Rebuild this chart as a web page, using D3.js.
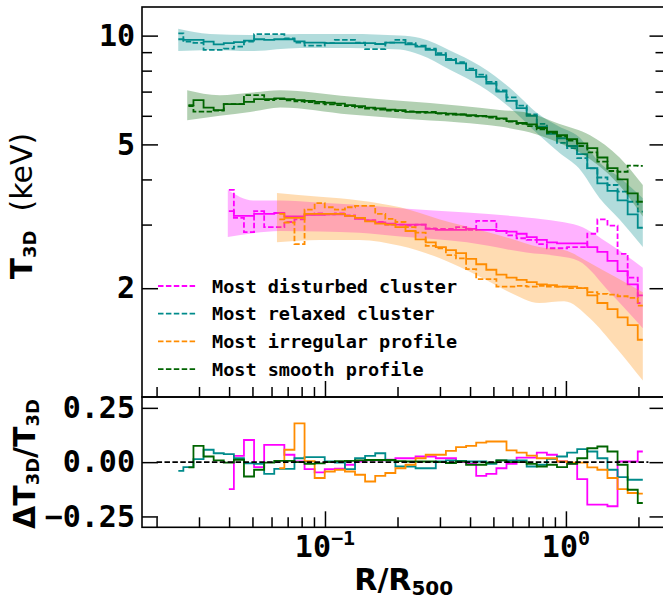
<!DOCTYPE html>
<html>
<head>
<meta charset="utf-8">
<script src="https://cdn.jsdelivr.net/npm/d3@7/dist/d3.min.js"></script>
<style>
body{margin:0;background:#fff;}
svg{display:block;}
</style>
</head>
<body>
<script>
// radial bins (R/R500), log spaced
var radius = [0.02462,0.02711,0.02986,0.03289,0.03622,0.03990,0.04393,0.04838,0.05329,0.05868,
    0.06463,0.07118,0.07840,0.08633,0.09506,0.1047,0.1153,0.1270,0.1398,0.1540,
    0.1696,0.1868,0.2057,0.2265,0.2494,0.2748,0.3026,0.3333,0.3671,0.4043,
    0.4452,0.4903,0.5400,0.5947,0.6549,0.7213,0.7943,0.8750,0.9636,1.061,
    1.169,1.287,1.417,1.561,1.719,1.893,2.085];

// most disturbed cluster
var disturbedT = [null,null,null,null,null,3.27,3.17,3.17,3.21,3.21,
    3.23,3.16,3.16,3.19,3.19,3.20,3.20,3.17,3.11,3.08,
    3.04,3.02,3.00,3.00,3.00,2.92,2.90,2.90,2.90,2.92,
    2.90,2.90,2.88,2.87,2.83,2.77,2.72,2.68,2.66,2.66,
    2.66,2.60,2.52,2.38,2.23,2.05,1.91];
var disturbedT2 = [null,null,null,null,null,3.74,3.13,2.86,3.27,2.95,
    2.95,3.05,3.10,3.20,3.22,3.20,3.22,3.18,3.12,3.08,
    3.05,3.00,3.00,2.98,3.00,2.93,2.92,2.92,2.95,2.90,
    3.07,3.07,2.88,2.80,2.75,2.72,2.65,2.58,2.58,2.60,
    2.60,2.83,3.10,2.98,2.49,2.14,1.82];
var disturbedRes = [null,null,null,null,null,-0.124,0.029,0.102,-0.023,0.08,
    0.08,0.034,0.003,-0.032,-0.047,-0.032,-0.03,-0.012,0.003,0.008,
    0.008,0.011,0.018,0.018,0.026,0.026,0.018,0.018,0.0,-0.008,
    -0.063,-0.054,-0.028,-0.008,0.021,0.021,0.044,0.034,0.003,-0.008,
    -0.078,-0.196,-0.196,-0.203,0.003,0.003,0.049];
var disturbedBandR = [0.0395,0.0503,0.0651,0.0952,0.139,0.205,0.388,0.685,0.936,1.13,1.52,2.085];
var disturbedLo = [2.77,2.84,2.88,2.87,2.85,2.78,2.68,2.51,2.45,2.38,1.95,1.55];
var disturbedHi = [3.74,3.50,3.50,3.45,3.40,3.33,3.24,3.14,3.06,2.98,2.65,2.28];

// most relaxed cluster
var relaxedT = [9.77,9.73,9.73,9.62,9.46,9.53,9.59,9.69,9.77,9.73,
    9.77,9.77,9.64,9.56,9.56,9.53,9.53,9.53,9.53,9.53,
    9.48,9.56,9.56,9.46,9.32,9.13,8.84,8.56,8.38,8.03,
    7.69,7.37,7.00,6.60,6.30,6.00,5.60,5.35,5.20,4.95,
    4.70,4.30,3.90,3.72,3.50,3.20,2.94];
var relaxedT2 = [10.15,9.62,9.55,9.13,9.13,9.20,9.32,9.62,10.09,10.09,
    10.09,9.83,9.56,9.38,9.38,9.53,9.73,9.73,9.56,9.17,
    9.17,9.56,9.73,9.53,9.38,9.20,8.95,8.62,8.45,8.10,
    7.80,7.45,7.05,6.75,6.40,6.05,5.70,5.40,5.05,4.88,
    4.58,4.29,4.05,3.86,3.70,3.47,3.26];
var relaxedRes = [-0.04,-0.023,0.014,0.057,0.041,0.037,0.018,-0.005,-0.008,-0.054,
    -0.031,-0.031,0.018,0.023,0.023,0.003,-0.002,-0.032,0.018,0.029,
    0.041,0.008,-0.02,-0.02,-0.028,-0.028,0.003,0.008,0.006,0.003,
    0.003,-0.008,0.008,0.008,0.008,-0.02,-0.012,0.015,0.026,0.044,
    0.06,0.049,0.018,-0.035,-0.069,-0.081,-0.081];
var relaxedBandR = [0.0246,0.0333,0.0489,0.0787,0.127,0.205,0.248,0.330,0.439,0.583,0.775,0.936,1.13,1.38,1.67,2.085];
var relaxedLo = [9.06,9.13,9.06,9.24,9.24,9.15,8.85,8.05,7.28,6.34,5.30,4.75,4.30,3.55,3.10,2.60];
var relaxedHi = [10.45,10.11,10.04,10.11,10.11,10.00,9.85,9.10,8.25,7.19,6.05,5.60,5.25,4.45,4.05,3.55];

// most irregular profile
var irregularT = [null,null,null,null,null,null,null,null,null,null,
    3.21,3.13,3.13,3.21,3.21,3.21,3.21,3.17,3.13,3.06,
    3.02,3.00,2.95,2.88,2.73,2.68,2.60,2.55,2.50,2.41,
    2.33,2.25,2.18,2.14,2.11,2.08,2.05,2.04,2.02,2.02,
    2.00,1.91,1.82,1.75,1.66,1.58,1.44];
var irregularT2 = [null,null,null,null,null,null,null,null,null,null,
    3.10,3.04,2.65,3.30,3.44,3.35,3.30,3.35,3.38,3.38,
    3.21,3.11,3.05,2.95,2.85,2.62,2.58,2.47,2.42,2.26,
    2.12,2.12,2.02,2.02,2.03,2.02,2.03,2.02,2.02,2.00,
    2.00,1.95,1.93,1.92,1.90,1.88,1.79];
var irregularRes = [null,null,null,null,null,null,null,null,null,null,
    -0.028,0.057,0.179,0.005,-0.073,-0.043,-0.035,-0.043,-0.058,-0.089,
    -0.063,-0.05,-0.028,-0.012,0.018,0.034,0.034,0.052,0.069,0.075,
    0.09,0.095,0.095,0.054,0.044,0.03,0.018,0.018,0.003,-0.002,
    -0.002,-0.024,-0.035,-0.073,-0.124,-0.142,-0.145];
var irregularBandR = [0.0632,0.0952,0.139,0.205,0.300,0.439,0.583,0.775,0.982,1.26,1.60,2.085];
var irregularLo = [2.68,2.72,2.72,2.62,2.42,2.15,1.95,1.82,1.84,1.65,1.38,1.11];
var irregularHi = [3.67,3.58,3.50,3.35,3.10,2.90,2.75,2.60,2.55,2.35,2.15,1.95];

// most smooth profile
var smoothT = [null,6.42,6.63,6.32,6.22,6.46,6.46,6.56,6.67,6.67,
    6.70,6.67,6.63,6.60,6.56,6.52,6.48,6.42,6.38,6.32,
    6.29,6.24,6.22,6.15,6.15,6.12,6.10,6.08,6.05,6.02,
    6.00,5.97,5.90,5.80,5.73,5.68,5.55,5.42,5.30,5.17,
    5.03,4.88,4.60,4.30,4.00,3.66,3.47];
var smoothT2 = [null,6.38,6.16,6.16,6.20,6.46,6.46,6.84,6.84,6.63,
    6.67,6.62,6.58,6.55,6.50,6.45,6.42,6.38,6.33,6.28,
    6.24,6.20,6.18,6.17,6.12,6.15,6.08,6.05,6.05,6.00,
    5.98,5.93,5.88,5.78,5.70,5.62,5.50,5.38,5.26,5.12,
    4.95,4.75,4.48,4.22,4.20,4.37,4.36];
var smoothRes = [null,-0.024,0.075,0.026,0.008,-0.002,0.011,-0.066,-0.035,-0.002,
    0.006,0.006,0.0,-0.008,-0.006,0.0,0.005,0.006,0.008,0.01,
    0.01,0.01,0.005,0.003,0.003,0.003,0.0,-0.004,0.003,-0.012,
    -0.012,-0.002,0.008,0.0,0.0,-0.008,-0.02,-0.012,-0.023,-0.008,
    0.018,0.064,0.072,0.049,-0.012,-0.127,-0.188];
var smoothBandR = [0.0268,0.0366,0.0489,0.0651,0.127,0.205,0.363,0.531,0.705,0.936,1.26,1.67,2.085];
var smoothLo = [5.83,6.00,6.15,6.33,6.05,5.90,5.75,5.60,5.40,5.05,4.55,3.85,3.16];
var smoothHi = [7.06,6.84,6.95,7.06,6.78,6.60,6.40,6.23,6.10,5.70,5.30,4.60,3.86];

var names = ["Most disturbed cluster","Most relaxed cluster","Most irregular profile","Most smooth profile"];
var colors = ["#ff00ff","#008b8b","#ff8c00","#006400"];

var yMajor = [2,5,10];
var yMinor = [3,4,6,7,8,9];
var resTicks = [-0.25,0,0.25];
var resLabels = ["\u22120.25","0.00","0.25"];
var xMajor = [0.1,1];
var xMinor = [0.02,0.03,0.04,0.05,0.06,0.07,0.08,0.09,0.2,0.3,0.4,0.5,0.6,0.7,0.8,0.9,2];
var zeroLine = [0.02,2.2];

var series = [
    {name:names[0], color:colors[0], T:disturbedT, T2:disturbedT2, res:disturbedRes, bandR:disturbedBandR, lo:disturbedLo, hi:disturbedHi},
    {name:names[1], color:colors[1], T:relaxedT, T2:relaxedT2, res:relaxedRes, bandR:relaxedBandR, lo:relaxedLo, hi:relaxedHi},
    {name:names[2], color:colors[2], T:irregularT, T2:irregularT2, res:irregularRes, bandR:irregularBandR, lo:irregularLo, hi:irregularHi},
    {name:names[3], color:colors[3], T:smoothT, T2:smoothT2, res:smoothRes, bandR:smoothBandR, lo:smoothLo, hi:smoothHi}
];

var W = 663, H = 601;
var left = 142, right = 665.5, top1 = 7, mid = 397, bot = 527.3;
var mono = "DejaVu Sans Mono", sans = "DejaVu Sans";

var svg = d3.select("body").append("svg")
    .attr("width", W)
    .attr("height", H);

var x = d3.scaleLog().domain([0.0174, 2.59]).range([left, right]);
var yT = d3.scaleLog().domain([1, 12]).range([mid, top1]);
var yR = d3.scaleLinear().domain([-0.3, 0.3]).range([bot, mid]);

var defs = svg.append("defs");
defs.append("clipPath").attr("id","clipTop").append("rect")
    .attr("x", left).attr("y", top1).attr("width", right-left).attr("height", mid-top1);
defs.append("clipPath").attr("id","clipBot").append("rect")
    .attr("x", left).attr("y", mid).attr("width", right-left).attr("height", bot-mid);

var gTop = svg.append("g").attr("clip-path","url(#clipTop)");
var gBot = svg.append("g").attr("clip-path","url(#clipBot)");

function stepLine(yScale){
    return d3.line()
        .defined(function(d){ return d[1] != null; })
        .x(function(d){ return x(d[0]); })
        .y(function(d){ return yScale(d[1]); })
        .curve(d3.curveStep);
}

series.forEach(function(s){
    var band = s.bandR.map(function(r,i){ return [r, s.lo[i], s.hi[i]]; });
    gTop.append("path")
        .datum(band)
        .attr("fill", s.color)
        .attr("fill-opacity", 0.3)
        .attr("d", d3.area()
            .x(function(d){ return x(d[0]); })
            .y0(function(d){ return yT(d[1]); })
            .y1(function(d){ return yT(d[2]); })
            .curve(d3.curveMonotoneX));

    gTop.append("path")
        .datum(radius.map(function(r,i){ return [r, s.T[i]]; }))
        .attr("fill","none")
        .attr("stroke", s.color)
        .attr("stroke-width", 1.8)
        .attr("d", stepLine(yT));

    gTop.append("path")
        .datum(radius.map(function(r,i){ return [r, s.T2[i]]; }))
        .attr("fill","none")
        .attr("stroke", s.color)
        .attr("stroke-width", 1.8)
        .attr("stroke-dasharray","5.5,2.4")
        .attr("d", stepLine(yT));

    gBot.append("path")
        .datum(radius.map(function(r,i){ return [r, s.res[i]]; }))
        .attr("fill","none")
        .attr("stroke", s.color)
        .attr("stroke-width", 1.8)
        .attr("d", stepLine(yR));
});

gBot.append("line")
    .attr("x1", x(zeroLine[0]))
    .attr("x2", x(zeroLine[1]))
    .attr("y1", yR(0))
    .attr("y2", yR(0))
    .attr("stroke","#000")
    .attr("stroke-width",1.6)
    .attr("stroke-dasharray","5.5,2.4");

// axes, all ticks inward
function tickGroup(axis, tx, ty){
    var g = svg.append("g")
        .attr("transform","translate(" + tx + "," + ty + ")")
        .call(axis);
    g.select(".domain").remove();
    g.selectAll("line").attr("stroke","#000").attr("stroke-width",1.5);
    g.selectAll("text")
        .attr("fill","#000")
        .attr("font-family", mono)
        .attr("font-weight","bold")
        .attr("font-size", 30);
    return g;
}

tickGroup(d3.axisLeft(yT).tickValues(yMajor).tickSize(-16).tickPadding(7).tickFormat(d3.format("d")), left, 0);
tickGroup(d3.axisLeft(yT).tickValues(yMinor).tickSize(-10).tickFormat(""), left, 0);
tickGroup(d3.axisRight(yT).tickValues(yMajor).tickSize(-16).tickFormat(""), right, 0);
tickGroup(d3.axisRight(yT).tickValues(yMinor).tickSize(-10).tickFormat(""), right, 0);
tickGroup(d3.axisBottom(x).tickValues(xMajor).tickSize(-16).tickFormat(""), 0, mid);
tickGroup(d3.axisBottom(x).tickValues(xMinor).tickSize(-10).tickFormat(""), 0, mid);

tickGroup(d3.axisLeft(yR).tickValues(resTicks).tickSize(-16).tickPadding(7)
    .tickFormat(function(d,i){ return resLabels[i]; }), left, 0);
tickGroup(d3.axisRight(yR).tickValues(resTicks).tickSize(-16).tickFormat(""), right, 0);
tickGroup(d3.axisBottom(x).tickValues(xMajor).tickSize(-16).tickFormat(""), 0, bot);
tickGroup(d3.axisBottom(x).tickValues(xMinor).tickSize(-10).tickFormat(""), 0, bot);

// x tick labels 10^n
var xl = svg.selectAll(".xlab")
    .data(xMajor)
    .enter().append("text")
    .attr("class","xlab")
    .attr("x", function(d){ return x(d); })
    .attr("y", 557)
    .attr("text-anchor","middle")
    .attr("font-family", mono)
    .attr("font-weight","bold")
    .attr("fill","#000");
xl.append("tspan").attr("font-size",30).text("10");
xl.append("tspan").attr("font-size",20).attr("dy",-12)
    .text(function(d){ return String(Math.round(Math.log10(d))).replace("-","\u2212"); });

// spines
svg.append("rect").attr("x",left).attr("y",top1).attr("width",right-left).attr("height",mid-top1)
    .attr("fill","none").attr("stroke","#000").attr("stroke-width",1.6);
svg.append("rect").attr("x",left).attr("y",mid).attr("width",right-left).attr("height",bot-mid)
    .attr("fill","none").attr("stroke","#000").attr("stroke-width",1.6);

// legend (dashed entries)
var leg = svg.selectAll(".leg")
    .data(series)
    .enter().append("g")
    .attr("class","leg")
    .attr("transform", function(d,i){ return "translate(158," + (286 + i*27.7) + ")"; });
leg.append("line")
    .attr("x1",0).attr("x2",39).attr("y1",0).attr("y2",0)
    .attr("stroke", function(d){ return d.color; })
    .attr("stroke-width",1.8)
    .attr("stroke-dasharray","5.5,2.4");
leg.append("text")
    .attr("x",54)
    .attr("y",6.7)
    .attr("font-family", mono)
    .attr("font-weight","bold")
    .attr("font-size",18.5)
    .attr("fill","#000")
    .text(function(d){ return d.name; });

// axis titles
var xt = svg.append("text")
    .attr("x",(left+right)/2).attr("y",590)
    .attr("text-anchor","middle")
    .attr("font-family", sans).attr("font-weight","bold").attr("fill","#000");
xt.append("tspan").attr("font-size",30).text("R/R");
xt.append("tspan").attr("font-size",20).attr("dy",5).text("500");

var yt = svg.append("text")
    .attr("transform","translate(32,206) rotate(-90)")
    .attr("text-anchor","middle")
    .attr("font-family", sans).attr("fill","#000");
yt.append("tspan").attr("font-weight","bold").attr("font-size",31).text("T");
yt.append("tspan").attr("font-weight","bold").attr("font-size",18).attr("dy",4).text("3D");
yt.append("tspan").attr("font-size",30).attr("dy",-4).attr("dx",19).text("(keV)");

var yr = svg.append("text")
    .attr("transform","translate(35,464) rotate(-90)")
    .attr("text-anchor","middle")
    .attr("font-family", sans).attr("font-weight","bold").attr("fill","#000");
yr.append("tspan").attr("font-size",30).text("\u0394T");
yr.append("tspan").attr("font-size",18).attr("dy",4).text("3D");
yr.append("tspan").attr("font-size",30).attr("dy",-4).text("/T");
yr.append("tspan").attr("font-size",18).attr("dy",4).text("3D");
</script>
</body>
</html>
